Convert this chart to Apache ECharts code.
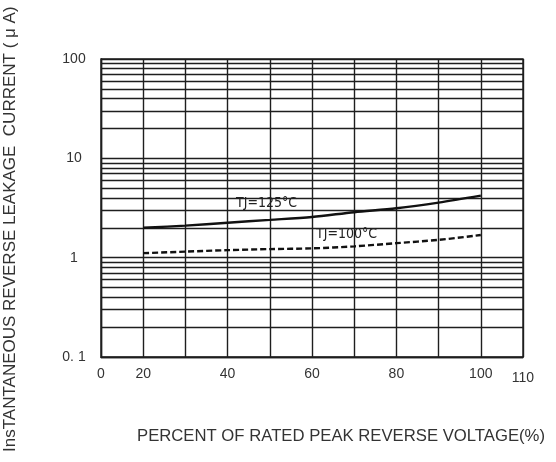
<!DOCTYPE html>
<html>
<head>
<meta charset="utf-8">
<script src="https://cdn.jsdelivr.net/npm/echarts@6/dist/echarts.min.js"></script>
<style>
html,body{margin:0;padding:0;background:#fff;}
#chart{width:556px;height:462px;}
</style>
</head>
<body>
<div id="chart"></div>
<script>
// Category positions along the (broken) x axis, in percent
var xCategories = ['0', '20', '30', '40', '50', '60', '70', '80', '90', '100', '110'];
var xTickLabels = ['0', '20', '40', '60', '80', '100', '110'];
// Leakage current (uA), aligned with xCategories
var tj125 = [null, 2.00, 2.10, 2.25, 2.40, 2.57, 2.87, 3.14, 3.58, 4.21, null];
var tj100 = [null, 1.11, 1.15, 1.19, 1.22, 1.24, 1.30, 1.40, 1.51, 1.69, null];
var yTickLabels = {0.1: '0. 1', 1: '1', 10: '10', 100: '100'};
var minorGrid = [0.2, 0.3, 0.4, 0.5, 0.6, 0.7, 0.8, 0.9, 2, 3, 4, 5, 6, 7, 8, 9, 20, 30, 40, 50, 60, 70, 80, 90];

var gridColor = '#1e1e1e';
var font = 'Liberation Sans, Arial, sans-serif';

var chart = echarts.init(document.getElementById('chart'), null, {renderer: 'canvas'});
chart.setOption({
  animation: false,
  backgroundColor: '#fff',
  grid: {left: 101, right: 33, top: 59, bottom: 105, show: true, borderColor: gridColor, borderWidth: 1.4},
  xAxis: {
    type: 'category',
    data: xCategories,
    boundaryGap: false,
    axisLine: {show: true, lineStyle: {color: gridColor, width: 1.4}},
    axisTick: {show: false},
    splitLine: {show: true, lineStyle: {color: gridColor, width: 1.4}},
    axisLabel: {
      interval: 0,
      margin: 10,
      color: '#333',
      fontFamily: font,
      fontSize: 14,
      formatter: function (v) {
        if (xTickLabels.indexOf(v) < 0) return '';
        return v === '110' ? '{b|' + v + '}' : v;
      },
      rich: {b: {fontFamily: font, fontSize: 14, color: '#333', padding: [4, 0, 0, 0]}}
    }
  },
  yAxis: {
    type: 'log',
    logBase: 10,
    min: 0.1,
    max: 100,
    axisLine: {show: true, lineStyle: {color: gridColor, width: 1.4}},
    axisTick: {show: false},
    splitLine: {show: true, lineStyle: {color: gridColor, width: 1.4}},
    axisLabel: {
      margin: 27,
      align: 'center',
      color: '#333',
      fontFamily: font,
      fontSize: 14,
      formatter: function (v) {
        var k = Math.round(Math.log10(v));
        return yTickLabels[Math.pow(10, k)] || '';
      }
    }
  },
  series: [
    {
      type: 'line',
      data: tj125,
      smooth: 0.3,
      symbol: 'none',
      lineStyle: {color: '#111', width: 2.4},
      silent: true,
      markLine: {
        silent: true,
        symbol: 'none',
        label: {show: false},
        lineStyle: {color: gridColor, width: 1.4, type: 'solid'},
        data: minorGrid.map(function (v) { return {yAxis: v}; })
      },
      z: 5
    },
    {
      type: 'line',
      data: tj100,
      smooth: 0.3,
      symbol: 'none',
      lineStyle: {color: '#111', width: 2.4, type: [6, 3]},
      silent: true,
      z: 5
    }
  ],
  graphic: [
    {type: 'text', left: 236, top: 196, z: 10,
     style: {text: 'TJ=125°C', fill: '#222', font: '14px "DejaVu Sans Condensed", "Liberation Sans Narrow", sans-serif'}},
    {type: 'text', left: 316, top: 227, z: 10,
     style: {text: 'TJ=100°C', fill: '#222', font: '14px "DejaVu Sans Condensed", "Liberation Sans Narrow", sans-serif'}},
    {type: 'text', left: 137, top: 428, z: 10,
     style: {text: 'PERCENT OF RATED PEAK REVERSE VOLTAGE(%)', fill: '#333', font: '16.7px "Liberation Sans", Arial, sans-serif'}},
    {type: 'text', x: 2, y: 452, rotation: Math.PI / 2, z: 10,
     style: {text: 'InsTANTANEOUS REVERSE LEAKAGE  CURRENT ( μ A)', fill: '#333', font: '17px "Liberation Sans", Arial, sans-serif'}}
  ]
});
</script>
</body>
</html>
